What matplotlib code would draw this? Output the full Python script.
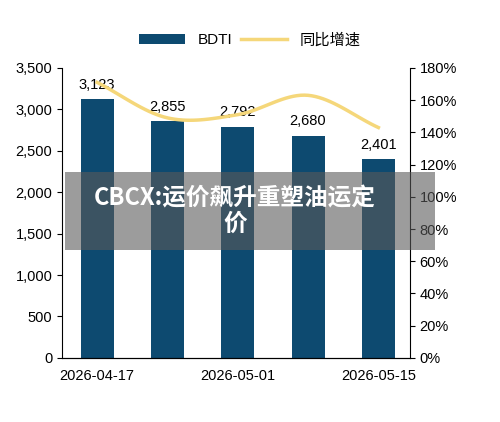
import matplotlib
matplotlib.use("Agg")
import matplotlib.pyplot as plt
import numpy as np
from matplotlib.patches import Rectangle

plt.rcParams['font.family'] = ['Liberation Sans', 'Noto Sans CJK SC', 'DejaVu Sans']

dates = ["2026-04-17", "2026-04-24", "2026-05-01", "2026-05-08", "2026-05-15"]
bdti = [3123, 2855, 2792, 2680, 2401]
yoy = [171, 149, 151, 163, 143]
shown_ticks = ["2026-04-17", "2026-05-01", "2026-05-15"]

bar_color = "#0d4a70"
line_color = "#f5d77a"

fig = plt.figure(figsize=(5, 4.22), dpi=100)
ax = fig.add_axes([0.124, 0.152, 0.696, 0.687])
x = np.arange(len(dates))
ax.bar(x, bdti, width=0.47, color=bar_color, label="BDTI")
for xi, v in zip(x, bdti):
    ax.text(xi, v + 90, f"{v:,}", ha="center", va="bottom", fontsize=10.5)
ax.set_ylim(0, 3500)
ax.set_yticks(range(0, 3501, 500))
ax.set_yticklabels([f"{v:,}" for v in range(0, 3501, 500)], fontsize=10.5)
ax.set_xlim(-0.5, 4.45)
ax.set_xticks([dates.index(d) for d in shown_ticks])
ax.set_xticklabels(shown_ticks, fontsize=10.5)
ax.spines['top'].set_visible(False)
ax.spines['right'].set_visible(False)
ax.tick_params(axis='x', length=0, pad=8)

ax2 = ax.twinx()
pts = np.array(list(zip(x, yoy)), dtype=float)
P = np.vstack([pts[0] * 2 - pts[1], pts, pts[-1] * 2 - pts[-2]])
cx, cy = [], []
for i in range(1, len(P) - 2):
    p0, p1, p2, p3 = P[i - 1], P[i], P[i + 1], P[i + 2]
    for t in np.linspace(0, 1, 20):
        c = 0.5 * ((2 * p1) + (-p0 + p2) * t + (2 * p0 - 5 * p1 + 4 * p2 - p3) * t**2 + (-p0 + 3 * p1 - 3 * p2 + p3) * t**3)
        cx.append(c[0]); cy.append(c[1])
ax2.plot(cx, cy, color=line_color, lw=2.5, label="同比增速")
ax2.set_ylim(0, 180)
ax2.set_yticks(range(0, 181, 20))
ax2.set_yticklabels([f"{v}%" for v in range(0, 181, 20)], fontsize=10.5)
ax2.spines['top'].set_visible(False)
ax2.spines['left'].set_visible(False)

h1, l1 = ax.get_legend_handles_labels()
h2, l2 = ax2.get_legend_handles_labels()
fig.legend(h1 + h2, l1 + l2, loc="center", bbox_to_anchor=(0.5, 0.905), ncol=2,
           frameon=False, fontsize=11, handlelength=3, columnspacing=0.6)

fig.patches.append(Rectangle((0.13, 0.408), 0.74, 0.185, transform=fig.transFigure,
                             facecolor="#5a5a5a", alpha=0.6, zorder=10))
fig.text(0.47, 0.5, "CBCX:运价飙升重塑油运定\n价", ha="center", va="center",
         color="white", fontsize=17, fontweight="bold", zorder=11,
         family=['Noto Sans CJK SC', 'DejaVu Sans'], linespacing=1.05)

fig.savefig("out.png", dpi=100)
